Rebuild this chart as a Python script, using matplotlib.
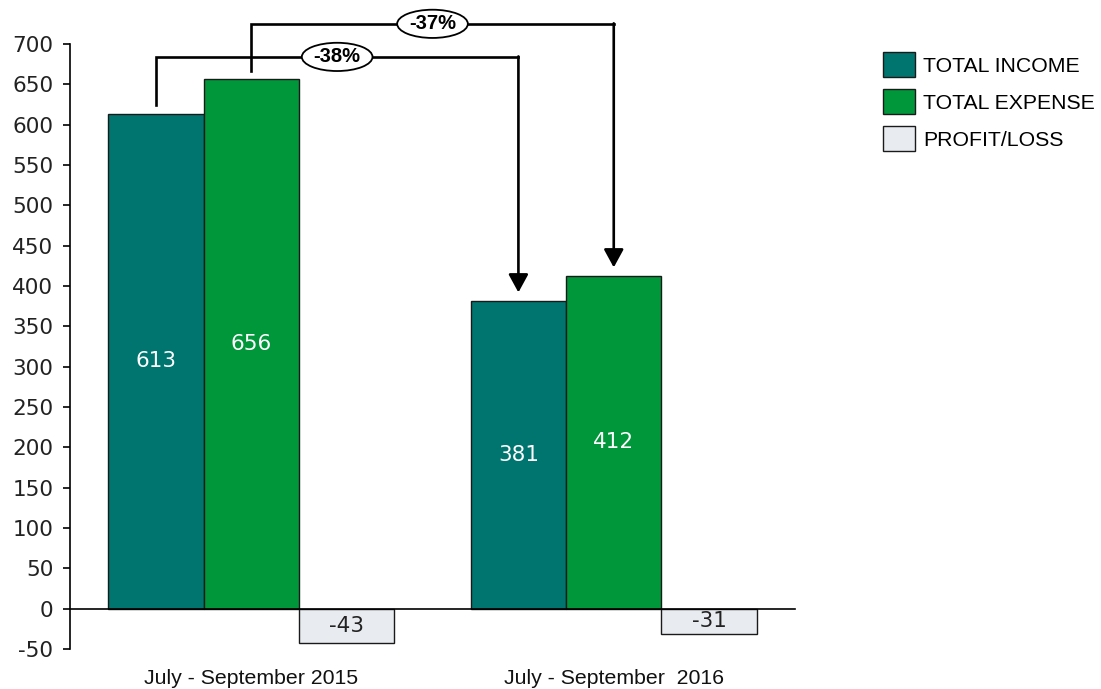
import matplotlib.pyplot as plt
import numpy as np
from matplotlib.patches import Ellipse

plt.rcParams["axes.unicode_minus"] = False

# quarterly figures
periods = ["July - September 2015", "July - September  2016"]
income = [613, 381]
expense = [656, 412]
profit = [-43, -31]
changes = ["-38%", "-37%"]   # income change, expense change
series_names = ["TOTAL INCOME", "TOTAL EXPENSE", "PROFIT/LOSS"]

c_income = "#00756f"
c_expense = "#00963a"
c_profit = "#e8ebef"

fig = plt.figure(figsize=(11.01, 6.89), dpi=100)
ax = fig.add_axes([70 / 1101, 1 - 649 / 689, 725 / 1101, 605 / 689])

x = np.arange(len(periods))
w = 0.263
b1 = ax.bar(x - w, income, w, color=c_income, edgecolor="#1a1a1a", lw=1, label=series_names[0], zorder=2)
b2 = ax.bar(x, expense, w, color=c_expense, edgecolor="#1a1a1a", lw=1, label=series_names[1], zorder=2)
b3 = ax.bar(x + w, profit, w, color=c_profit, edgecolor="#1a1a1a", lw=1, label=series_names[2], zorder=2)

# values inside the bars
for bars, col in ((b1, "white"), (b2, "white"), (b3, "#222222")):
    for r in bars:
        v = r.get_height()
        ax.text(r.get_x() + r.get_width() / 2, v / 2, f"{v:.0f}", ha="center", va="center",
                color=col, fontsize=15.5, family="DejaVu Sans", zorder=3)

ax.set_xlim(-0.5, 1.5)
ax.set_ylim(-50, 700)
ax.set_yticks(np.arange(-50, 701, 50))
ax.tick_params(axis="y", length=5, width=1.2, pad=7, labelsize=15.5, labelcolor="#222222")
ax.tick_params(axis="x", bottom=False, labelbottom=False)
for s in ("top", "right"):
    ax.spines[s].set_visible(False)
ax.spines["bottom"].set_position(("data", 0))
ax.spines["left"].set_linewidth(1.2)
ax.spines["bottom"].set_linewidth(1.2)

for xi, name in zip(x, periods):
    ax.text(xi, -87, name, ha="center", va="center", fontsize=15.3,
            family="Liberation Sans", color="#111111", clip_on=False)


def bracket(x0, x1, y0, ytop, y1, label):
    ax.plot([x0, x0, x1], [y0, ytop, ytop], color="black", lw=1.9, clip_on=False,
            solid_joinstyle="miter", zorder=4)
    ax.annotate("", xy=(x1, y1), xytext=(x1, ytop + 0.6), annotation_clip=False,
                arrowprops=dict(arrowstyle="-|>,head_length=0.55,head_width=0.3",
                                mutation_scale=20, color="black", lw=1.9,
                                shrinkA=0, shrinkB=0), zorder=4)
    xm = (x0 + x1) / 2
    ax.add_patch(Ellipse((xm, ytop), 0.195, 35, facecolor="white", edgecolor="black",
                         lw=1.3, clip_on=False, zorder=5))
    ax.text(xm, ytop, label, ha="center", va="center", fontsize=14.5, weight="bold",
            family="Liberation Sans", zorder=6, clip_on=False)


bracket(x[0] - w, x[1] - w, income[0] + 12, 684, income[1] + 11, changes[0])
bracket(x[0], x[1], expense[0] + 10, 725, expense[1] + 11, changes[1])

ax.legend(handles=[b1, b2, b3], loc="upper left", bbox_to_anchor=(883 / 1101, 1 - 52 / 689),
          bbox_transform=fig.transFigure, frameon=False, borderpad=0, borderaxespad=0,
          handlelength=1.5, handleheight=1.45, handletextpad=0.4, labelspacing=0.55,
          prop={"family": "Liberation Sans", "size": 15.3})

fig.savefig("out.png", dpi=100)
